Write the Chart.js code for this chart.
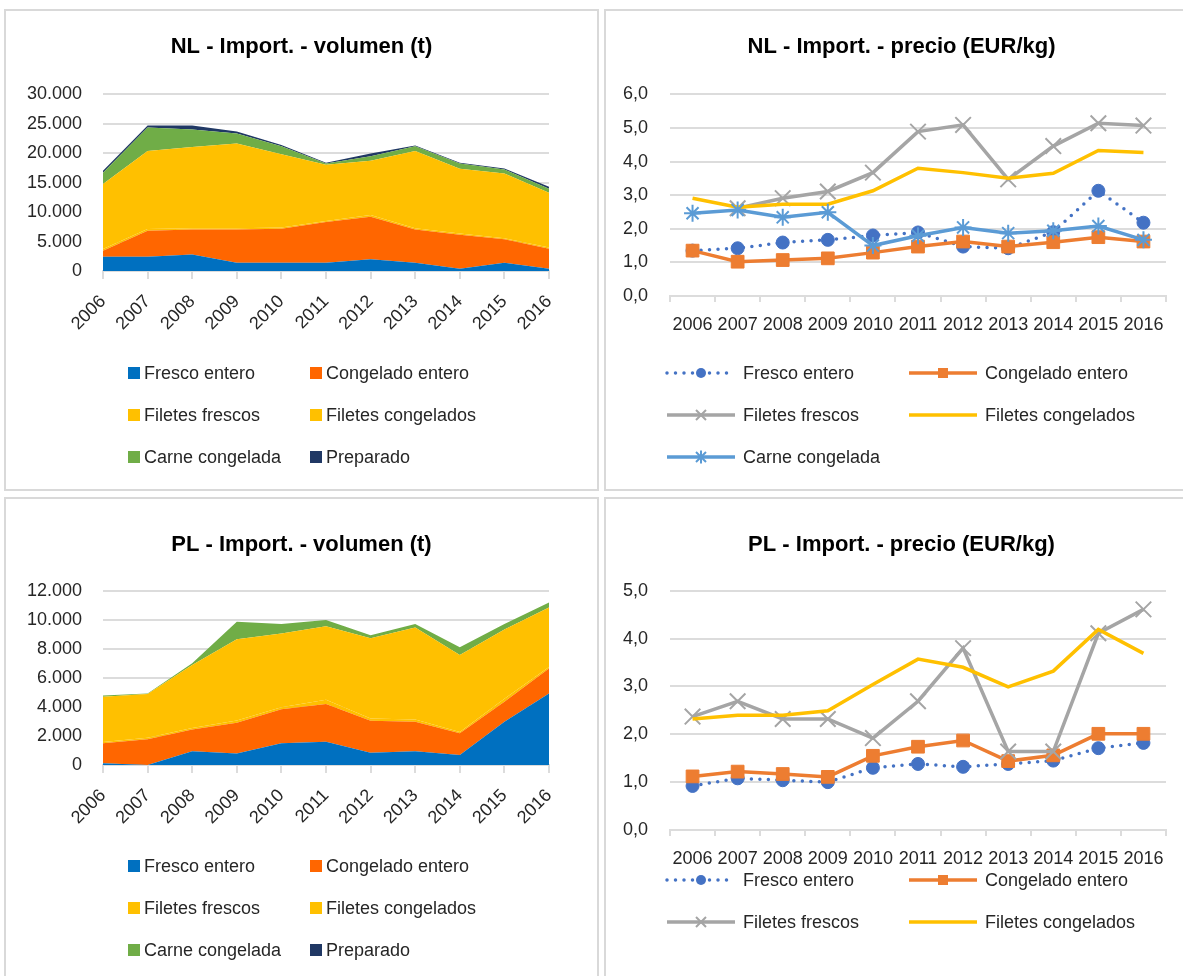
<!DOCTYPE html>
<html>
<head>
<meta charset="utf-8">
<script src="https://cdn.jsdelivr.net/npm/chart.js@4.4.1/dist/chart.umd.min.js"></script>
<style>
  html, body { margin: 0; padding: 0; background: #fff; }
  body { width: 1183px; height: 976px; position: relative; overflow: hidden; }
  .panel { position: absolute; }
  .frame { position: absolute; border: 2px solid #d9d9d9; box-sizing: border-box; pointer-events: none; }
</style>
</head>
<body>
<div class="panel" id="p1"><canvas id="c1"></canvas></div>
<div class="panel" id="p2"><canvas id="c2"></canvas></div>
<div class="panel" id="p3"><canvas id="c3"></canvas></div>
<div class="panel" id="p4"><canvas id="c4"></canvas></div>
<script>
// --- datos ---
const years = ['2006', '2007', '2008', '2009', '2010', '2011', '2012', '2013', '2014', '2015', '2016'];
const volNames = ['Fresco entero', 'Congelado entero', 'Filetes frescos', 'Filetes congelados', 'Carne congelada', 'Preparado'];
const priceNames = ['Fresco entero', 'Congelado entero', 'Filetes frescos', 'Filetes congelados', 'Carne congelada'];

// NL volumen (t)
const nlVolFresco     = [2400, 2400, 2800, 1400, 1400, 1400, 2000, 1400,  400, 1400,  400];
const nlVolCongelado  = [1040, 4430, 4260, 5660, 5770, 6900, 7200, 5660, 5750, 3970, 3380];
const nlVolFilFrescos = [ 300,  300,  200,  200,  200,  200,  300,  200,  200,  200,  200];
const nlVolFilCong    = [11010, 13260, 13810, 14380, 12460, 9520, 9200, 13130, 10990, 10990, 9290];
const nlVolCarne      = [1910, 3970, 2950, 1700, 1360,  230,  790,  800,  910,  680,  680];
const nlVolPreparado  = [ 340,  340,  680,  340,  210,  110,  460,  110,  110,  160,  340];

// NL precio (EUR/kg)
const nlPrFresco     = [1.35, 1.42, 1.59, 1.67, 1.80, 1.89, 1.47, 1.42, 1.90, 3.13, 2.18];
const nlPrCongelado  = [1.35, 1.02, 1.07, 1.12, 1.29, 1.47, 1.62, 1.47, 1.60, 1.75, 1.62];
const nlPrFilFrescos = [null, 2.61, 2.91, 3.11, 3.67, 4.89, 5.09, 3.47, 4.46, 5.14, 5.07];
const nlPrFilCong    = [2.91, 2.64, 2.73, 2.73, 3.13, 3.80, 3.67, 3.50, 3.65, 4.33, 4.27];
const nlPrCarne      = [2.46, 2.56, 2.34, 2.49, 1.50, 1.79, 2.04, 1.87, 1.94, 2.08, 1.67];

// PL volumen (t)
const plVolFresco     = [ 120,    0,  940,  800, 1490, 1600,  850,  940,  690, 2980, 4930];
const plVolCongelado  = [1370, 1770, 1510, 2110, 2340, 2600, 2200, 2040, 1490, 1380, 1720];
const plVolFilFrescos = [ 100,  100,  100,  150,  150,  300,  150,  150,  100,  200,  100];
const plVolFilCong    = [3110, 3020, 4330, 5590, 5080, 5060, 5520, 6340, 5290, 4770, 4100];
const plVolCarne      = [  90,   40,  120, 1210,  640,  420,  220,  230,  530,  370,  340];
const plVolPreparado  = [   0,    0,    0,    0,    0,    0,    0,    0,    0,    0,    0];

// PL precio (EUR/kg)
const plPrFresco     = [0.92, 1.08, 1.04, 1.00, 1.30, 1.38, 1.32, 1.38, 1.45, 1.71, 1.82];
const plPrCongelado  = [1.12, 1.22, 1.17, 1.11, 1.55, 1.74, 1.87, 1.44, 1.56, 2.01, 2.01];
const plPrFilFrescos = [2.37, 2.69, 2.32, 2.32, 1.92, 2.69, 3.80, 1.64, 1.64, 4.11, 4.61];
const plPrFilCong    = [2.32, 2.40, 2.40, 2.49, 3.04, 3.57, 3.40, 2.99, 3.32, 4.19, 3.69];

// --- estilo ---
const FONT = "'Liberation Sans', Arial, sans-serif";
const TXT = '#262626';
const GRID = '#dcdcdc';
const volColors = ['#0070c0', '#ff6600', '#ffc000', '#ffc000', '#70ad47', '#203864'];

Chart.defaults.font.family = FONT;
Chart.defaults.color = TXT;

const fmtMiles = v => String(v).replace(/\B(?=(\d{3})+(?!\d))/g, '.');
const fmtDec = v => v.toFixed(1).replace('.', ',');

// marcador simple para la leyenda
function drawMarker(ctx, style, x, y, r, color) {
    ctx.save();
    ctx.setLineDash([]);
    ctx.fillStyle = color;
    ctx.strokeStyle = color;
    ctx.lineWidth = 2;
    ctx.beginPath();
    if (style === 'circle') {
        ctx.arc(x, y, r, 0, Math.PI * 2);
        ctx.fill();
    } else if (style === 'rect') {
        ctx.fillRect(x - r, y - r, 2 * r, 2 * r);
    } else if (style === 'crossRot') {
        ctx.moveTo(x - r, y - r); ctx.lineTo(x + r, y + r);
        ctx.moveTo(x + r, y - r); ctx.lineTo(x - r, y + r);
        ctx.stroke();
    } else if (style === 'star') {
        ctx.moveTo(x - r, y - r); ctx.lineTo(x + r, y + r);
        ctx.moveTo(x + r, y - r); ctx.lineTo(x - r, y + r);
        ctx.moveTo(x, y - r * 1.3); ctx.lineTo(x, y + r * 1.3);
        ctx.stroke();
    }
    ctx.restore();
}

// leyenda en dos columnas, como en Excel
const gridLegend = {
    id: 'gridLegend',
    afterDraw(chart, args, opts) {
        const ctx = chart.ctx;
        ctx.save();
        ctx.font = `18px ${FONT}`;
        ctx.textBaseline = 'middle';
        chart.data.datasets.forEach((ds, i) => {
            const x = opts.cols[i % 2];
            const y = opts.rows[Math.floor(i / 2)];
            if (y === undefined) return;
            if (opts.kind === 'box') {
                ctx.fillStyle = ds.backgroundColor;
                ctx.fillRect(x, y - 6, 12, 12);
                ctx.fillStyle = TXT;
                ctx.fillText(ds.label, x + 16, y + 1);
            } else {
                ctx.save();
                ctx.strokeStyle = ds.borderColor;
                ctx.lineWidth = ds.borderWidth;
                ctx.lineCap = ds.borderCapStyle || 'butt';
                ctx.setLineDash(ds.borderDash || []);
                ctx.beginPath();
                ctx.moveTo(x, y);
                ctx.lineTo(x + 68, y);
                ctx.stroke();
                ctx.restore();
                if (ds.pointRadius > 0) drawMarker(ctx, ds.pointStyle, x + 34, y, 5, ds.borderColor);
                ctx.fillStyle = TXT;
                ctx.fillText(ds.label, x + 76, y + 1);
            }
        });
        ctx.restore();
    }
};

function volSets(arrs) {
    return arrs.map((d, i) => ({
        label: volNames[i],
        data: d,
        backgroundColor: volColors[i],
        borderColor: 'rgba(0,0,0,0)',
        borderWidth: 0,
        pointRadius: 0,
        fill: i === 0 ? 'origin' : '-1',
        tension: 0
    }));
}

function priceSets(arrs) {
    const styles = [
        { borderColor: '#4472c4', borderDash: [0, 8.5], borderCapStyle: 'round', pointStyle: 'circle', pointRadius: 6.5, pointBorderWidth: 1 },
        { borderColor: '#ed7d31', pointStyle: 'rect', pointRadius: 9, pointBorderWidth: 1 },
        { borderColor: '#a5a5a5', pointStyle: 'crossRot', pointRadius: 11, pointBorderWidth: 2 },
        { borderColor: '#ffc000', pointStyle: 'circle', pointRadius: 0 },
        { borderColor: '#5b9bd5', pointStyle: 'star', pointRadius: 8.5, pointBorderWidth: 2 }
    ];
    return arrs.map((d, i) => Object.assign({
        label: priceNames[i],
        data: d,
        borderWidth: 3.5,
        fill: false,
        tension: 0,
        order: -i
    }, styles[i], {
        backgroundColor: styles[i].borderColor,
        pointBackgroundColor: styles[i].borderColor,
        pointBorderColor: styles[i].borderColor
    }));
}

function makeChart(id, g, type, datasets, title) {
    const panel = document.getElementById('p' + id);
    Object.assign(panel.style, { left: g.x + 'px', top: g.y + 'px', width: g.w + 'px', height: g.h + 'px' });
    const frame = document.createElement('div');
    frame.className = 'frame';
    Object.assign(frame.style, { left: g.x + 'px', top: g.y + 'px', width: g.w + 'px', height: g.h + 'px' });
    document.body.appendChild(frame);

    const rightGap = g.w - g.plotR;
    const isArea = type === 'area';
    const xAxisH = isArea ? 75 : 50;
    new Chart(document.getElementById('c' + id), {
        type: 'line',
        data: { labels: years, datasets },
        plugins: [gridLegend],
        options: {
            responsive: true,
            maintainAspectRatio: false,
            animation: false,
            layout: { padding: { left: 0, right: 0, top: 0, bottom: g.h - g.plotB - xAxisH } },
            plugins: {
                legend: { display: false },
                tooltip: { enabled: false },
                title: {
                    display: true,
                    text: title,
                    color: '#000',
                    font: { family: FONT, size: 22, weight: 'bold', lineHeight: 1.2 },
                    padding: { top: g.titleY - 13.2, bottom: g.plotT - g.titleY - 13.2 }
                },
                gridLegend: { kind: isArea ? 'box' : 'line', cols: g.cols, rows: g.rows }
            },
            scales: {
                x: {
                    offset: !isArea,
                    grid: { offset: !isArea, drawOnChartArea: false, drawTicks: true, tickLength: isArea ? 8 : 6, color: GRID, lineWidth: 2 },
                    border: { display: true, color: GRID, width: 2 },
                    ticks: {
                        color: TXT,
                        font: { size: 18 },
                        autoSkip: false,
                        minRotation: isArea ? 45 : 0,
                        maxRotation: isArea ? 45 : 0,
                        padding: isArea ? 12 : 12
                    },
                    afterFit(s) { s.height = xAxisH; }
                },
                y: {
                    stacked: isArea,
                    min: 0,
                    max: g.yMax,
                    grid: { color: GRID, drawTicks: false, lineWidth: 2 },
                    border: { display: false },
                    ticks: {
                        stepSize: g.yStep,
                        color: TXT,
                        font: { size: 18 },
                        padding: g.yPad,
                        callback: v => isArea ? fmtMiles(v) : fmtDec(v)
                    },
                    afterFit(s) { s.width = g.plotL; }
                },
                // eje vacío a la derecha: reserva el margen y mantiene el título centrado
                yR: {
                    position: 'right',
                    grid: { drawOnChartArea: false, drawTicks: false },
                    border: { display: false },
                    ticks: { display: false },
                    afterFit(s) { s.width = rightGap; }
                }
            }
        }
    });
}

makeChart(1, { x: 4, y: 9, w: 595, h: 482, plotL: 99, plotR: 545, plotT: 85.3, plotB: 262, titleY: 38,
    yMax: 30000, yStep: 5000, yPad: 21, cols: [124, 306], rows: [364, 406, 448] },
    'area', volSets([nlVolFresco, nlVolCongelado, nlVolFilFrescos, nlVolFilCong, nlVolCarne, nlVolPreparado]),
    'NL - Import. - volumen (t)');

makeChart(2, { x: 604, y: 9, w: 595, h: 482, plotL: 66, plotR: 562, plotT: 85.3, plotB: 287, titleY: 38,
    yMax: 6, yStep: 1, yPad: 22, cols: [63, 305], rows: [364, 406, 448] },
    'price', priceSets([nlPrFresco, nlPrCongelado, nlPrFilFrescos, nlPrFilCong, nlPrCarne]),
    'NL - Import. - precio (EUR/kg)');

makeChart(3, { x: 4, y: 497, w: 595, h: 482, plotL: 99, plotR: 545, plotT: 93.7, plotB: 268, titleY: 48,
    yMax: 12000, yStep: 2000, yPad: 21, cols: [124, 306], rows: [369, 411, 453] },
    'area', volSets([plVolFresco, plVolCongelado, plVolFilFrescos, plVolFilCong, plVolCarne, plVolPreparado]),
    'PL - Import. - volumen (t)');

makeChart(4, { x: 604, y: 497, w: 595, h: 482, plotL: 66, plotR: 562, plotT: 93.7, plotB: 333, titleY: 48,
    yMax: 5, yStep: 1, yPad: 22, cols: [63, 305], rows: [383, 425] },
    'price', priceSets([plPrFresco, plPrCongelado, plPrFilFrescos, plPrFilCong]),
    'PL - Import. - precio (EUR/kg)');
</script>
</body>
</html>
